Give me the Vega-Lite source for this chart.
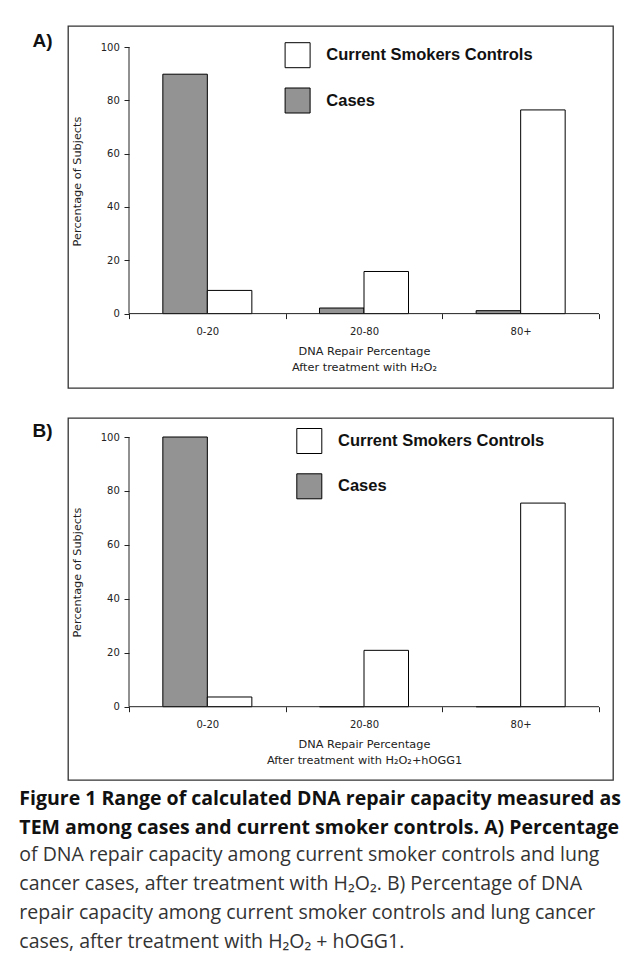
{
  "$schema": "https://vega.github.io/schema/vega-lite/v6.json",
  "padding": {"left": 19, "top": 25, "right": 0, "bottom": 4},
  "background": "white",
  "config": {
    "view": {"stroke": "#333", "strokeWidth": 1.3},
    "axis": {
      "labelFont": "DejaVu Sans", "labelFontSize": 10, "labelColor": "#222",
      "titleFont": "DejaVu Sans", "titleFontSize": 11.3, "titleFontWeight": "normal", "titleColor": "#222",
      "tickColor": "#222", "tickSize": 5, "grid": false, "domain": false
    },
    "legend": {
      "orient": "none", "title": null, "padding": 0, "direction": "vertical",
      "symbolType": "square", "symbolSize": 625, "symbolStrokeColor": "black", "symbolStrokeWidth": 1, "symbolOpacity": 1,
      "labelFont": "Liberation Sans", "labelFontSize": 16.5, "labelFontWeight": "bold", "labelColor": "#111",
      "labelOffset": 15.7, "rowPadding": 15.3, "labelLimit": 400
    }
  },
  "datasets": {
    "panelA": [
      {"range": "0-20", "group": "Cases", "percent": 89.8},
      {"range": "20-80", "group": "Cases", "percent": 2.1},
      {"range": "80+", "group": "Cases", "percent": 1.1},
      {"range": "0-20", "group": "Current Smokers Controls", "percent": 8.7},
      {"range": "20-80", "group": "Current Smokers Controls", "percent": 15.8},
      {"range": "80+", "group": "Current Smokers Controls", "percent": 76.4}
    ],
    "panelB": [
      {"range": "0-20", "group": "Cases", "percent": 100},
      {"range": "20-80", "group": "Cases", "percent": 0},
      {"range": "80+", "group": "Cases", "percent": 0},
      {"range": "0-20", "group": "Current Smokers Controls", "percent": 3.6},
      {"range": "20-80", "group": "Current Smokers Controls", "percent": 20.9},
      {"range": "80+", "group": "Current Smokers Controls", "percent": 75.5}
    ]
  },
  "title": {
    "text": ["Figure 1 Range of calculated DNA repair capacity measured as", "TEM among cases and current smoker controls. A) Percentage"],
    "subtitle": ["of DNA repair capacity among current smoker controls and lung", "cancer cases, after treatment with H₂O₂. B) Percentage of DNA", "repair capacity among current smoker controls and lung cancer", "cases, after treatment with H₂O₂ + hOGG1."],
    "orient": "bottom", "anchor": "start", "dx": -12, "offset": 9,
    "font": "Open Sans", "fontSize": 19.5, "fontWeight": "bold", "color": "#111", "lineHeight": 29,
    "subtitleFont": "Open Sans", "subtitleFontSize": 19.5, "subtitleFontWeight": "normal", "subtitleColor": "#333", "subtitleLineHeight": 29, "subtitlePadding": 8
  },
  "spacing": 28,
  "resolve": {"scale": {"color": "independent", "xOffset": "independent"}, "legend": {"color": "independent"}},
  "vconcat": [
    {
      "width": 545, "height": 362,
      "resolve": {"axis": {"y": "independent"}},
      "layer": [
        {
          "data": {"name": "panelA"},
          "mark": {"type": "bar", "stroke": "black", "strokeWidth": 1},
          "encoding": {
            "x": {"field": "range", "type": "nominal", "sort": ["0-20", "20-80", "80+"],
              "scale": {"paddingInner": 0, "paddingOuter": 0.2394, "align": 0.8133},
              "axis": {"offset": -74.4, "labelAngle": 0, "tickBand": "extent", "labelPadding": 8, "titlePadding": 9, "titleX": 296, "titleLineHeight": 15.5,
                "title": ["DNA Repair Percentage", "After treatment with H₂O₂"]}},
            "xOffset": {"field": "group", "type": "nominal", "sort": ["Cases", "Current Smokers Controls"], "scale": {"paddingInner": 0, "paddingOuter": 0.76}},
            "y": {"field": "percent", "type": "quantitative",
              "scale": {"domain": [-27.9, 107.88], "nice": false, "zero": false},
              "axis": {"orient": "left", "values": [0, 20, 40, 60, 80, 100], "offset": -61, "labelPadding": 4.7, "title": "Percentage of Subjects", "titlePadding": 18, "titleY": 155}},
            "color": {"field": "group", "type": "nominal",
              "scale": {"domain": ["Current Smokers Controls", "Cases"], "range": ["#ffffff", "#939393"]},
              "legend": {"legendX": 216.6, "legendY": 16.2}}
          }
        },
        {
          "data": {"values": [{}]},
          "mark": {"type": "rule", "color": "#222", "strokeWidth": 1},
          "encoding": {
            "x": {"datum": "0-20", "type": "nominal", "bandPosition": 0},
            "y": {"datum": 0, "type": "quantitative",
              "axis": {"orient": "left", "title": "A)", "labels": false, "ticks": false, "domain": false, "offset": 0,
                "titleAngle": 0, "titleAlign": "left", "titleBaseline": "middle", "titleX": -36, "titleY": 14.5,
                "titleFont": "Liberation Sans", "titleFontSize": 19, "titleFontWeight": "bold", "titleColor": "#111"}},
            "y2": {"datum": 100}
          }
        },
        {
          "data": {"values": [{}]},
          "mark": {"type": "rule", "color": "#222", "strokeWidth": 1},
          "encoding": {
            "x": {"datum": "0-20", "type": "nominal", "bandPosition": 0},
            "x2": {"datum": "80+", "bandPosition": 1},
            "y": {"datum": 0, "type": "quantitative", "axis": null}
          }
        }
      ]
    },
    {
      "width": 545, "height": 362,
      "resolve": {"axis": {"y": "independent"}},
      "layer": [
        {
          "data": {"name": "panelB"},
          "mark": {"type": "bar", "stroke": "black", "strokeWidth": 1},
          "encoding": {
            "x": {"field": "range", "type": "nominal", "sort": ["0-20", "20-80", "80+"],
              "scale": {"paddingInner": 0, "paddingOuter": 0.2394, "align": 0.8133},
              "axis": {"offset": -73.3, "labelAngle": 0, "tickBand": "extent", "labelPadding": 8, "titlePadding": 9, "titleX": 296, "titleLineHeight": 15.5,
                "title": ["DNA Repair Percentage", "After treatment with H₂O₂+hOGG1"]}},
            "xOffset": {"field": "group", "type": "nominal", "sort": ["Cases", "Current Smokers Controls"], "scale": {"paddingInner": 0, "paddingOuter": 0.76}},
            "y": {"field": "percent", "type": "quantitative",
              "scale": {"domain": [-27.18, 107.05], "nice": false, "zero": false},
              "axis": {"orient": "left", "values": [0, 20, 40, 60, 80, 100], "offset": -61, "labelPadding": 4.7, "title": "Percentage of Subjects", "titlePadding": 18, "titleY": 154}},
            "color": {"field": "group", "type": "nominal",
              "scale": {"domain": ["Current Smokers Controls", "Cases"], "range": ["#ffffff", "#939393"]},
              "legend": {"legendX": 228.3, "legendY": 10}}
          }
        },
        {
          "data": {"values": [{}]},
          "mark": {"type": "rule", "color": "#222", "strokeWidth": 1},
          "encoding": {
            "x": {"datum": "0-20", "type": "nominal", "bandPosition": 0},
            "y": {"datum": 0, "type": "quantitative",
              "axis": {"orient": "left", "title": "B)", "labels": false, "ticks": false, "domain": false, "offset": 0,
                "titleAngle": 0, "titleAlign": "left", "titleBaseline": "middle", "titleX": -36, "titleY": 12.5,
                "titleFont": "Liberation Sans", "titleFontSize": 19, "titleFontWeight": "bold", "titleColor": "#111"}},
            "y2": {"datum": 100}
          }
        },
        {
          "data": {"values": [{}]},
          "mark": {"type": "rule", "color": "#222", "strokeWidth": 1},
          "encoding": {
            "x": {"datum": "0-20", "type": "nominal", "bandPosition": 0},
            "x2": {"datum": "80+", "bandPosition": 1},
            "y": {"datum": 0, "type": "quantitative", "axis": null}
          }
        }
      ]
    }
  ]
}
